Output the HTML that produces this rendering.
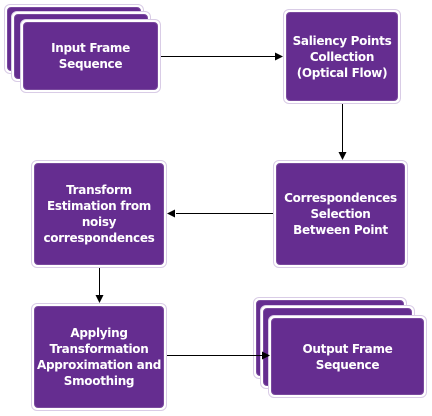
<!DOCTYPE html>
<html><head><style>
html,body{margin:0;padding:0;background:#fff;}
body{width:432px;height:416px;position:relative;overflow:hidden;font-family:"DejaVu Sans","Liberation Sans",sans-serif;}
.b{position:absolute;box-sizing:border-box;border:1px solid #d9cce6;border-radius:6px;background:#fff;padding:2px;}
.b>div{width:100%;height:100%;box-sizing:border-box;background:#652d90;border-radius:4px;border:1px solid #7a4a9e;display:flex;align-items:center;justify-content:center;text-align:center;color:#fff;font-weight:bold;font-size:12px;line-height:16px;letter-spacing:-0.3px;}
svg{position:absolute;left:0;top:0;}
</style></head><body>
<div class="b" style="left:4px;top:4px;width:140px;height:70px"><div></div></div>
<div class="b" style="left:11px;top:11px;width:140px;height:71px"><div></div></div>
<div class="b" style="left:20px;top:19px;width:141px;height:74px"><div>Input Frame<br>Sequence</div></div>

<div class="b" style="left:283px;top:9px;width:118px;height:95px"><div>Saliency Points<br>Collection<br>(Optical Flow)</div></div>
<div class="b" style="left:273px;top:160px;width:135px;height:108px"><div>Correspondences<br>Selection<br>Between Point</div></div>
<div class="b" style="left:31px;top:160px;width:136px;height:108px"><div>Transform<br>Estimation from<br>noisy<br>correspondences</div></div>
<div class="b" style="left:31px;top:303px;width:136px;height:108px"><div>Applying<br>Transformation<br>Approximation and<br>Smoothing</div></div>

<div class="b" style="left:253px;top:297px;width:154px;height:82px"><div></div></div>
<div class="b" style="left:260px;top:305px;width:155px;height:84px"><div></div></div>
<div class="b" style="left:268px;top:315px;width:159px;height:83px"><div>Output Frame<br>Sequence</div></div>

<svg width="432" height="416">
<g stroke="#000" stroke-width="1" fill="none">
<line x1="161" y1="56.5" x2="276" y2="56.5"/>
<line x1="342.5" y1="104" x2="342.5" y2="152"/>
<line x1="273" y1="213.5" x2="176" y2="213.5"/>
<line x1="99.5" y1="268" x2="99.5" y2="295"/>
<line x1="167" y1="355.5" x2="262" y2="355.5"/>
</g>
<g fill="#000">
<polygon points="283,56.5 275,52.5 275,60.5"/>
<polygon points="342.5,160 338.5,152 346.5,152"/>
<polygon points="167,213.5 175,209.5 175,217.5"/>
<polygon points="99.5,303 95.5,295 103.5,295"/>
<polygon points="270,355.5 262,351.5 262,359.5"/>
</g>
</svg>
</body></html>
